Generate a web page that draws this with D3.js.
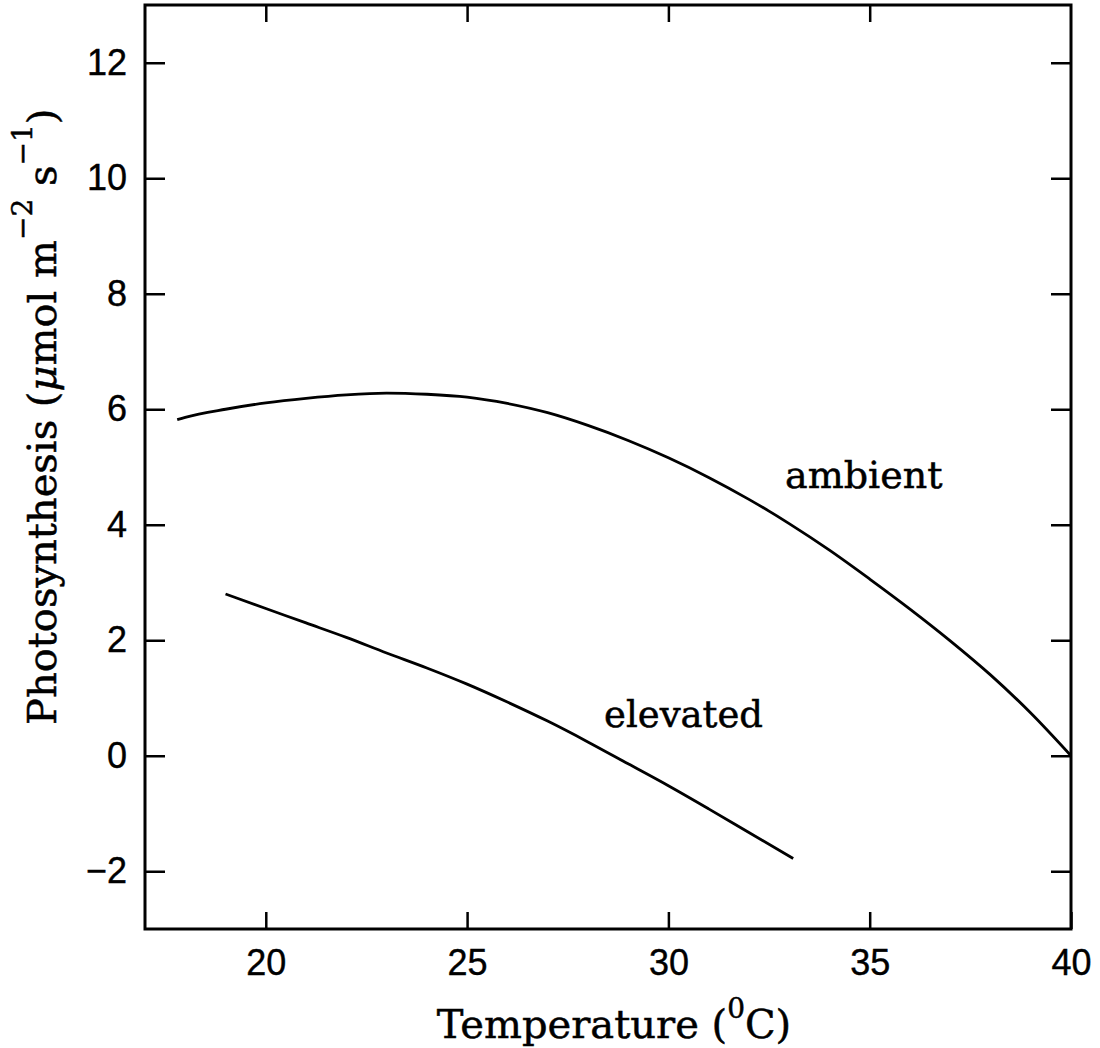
<!DOCTYPE html>
<html>
<head>
<meta charset="utf-8">
<script src="https://cdn.jsdelivr.net/npm/d3@7"></script>
<style>
  body { margin: 0; background: #fff; }
  svg { display: block; }
  .tick text { font-family: "Liberation Sans", Arial, sans-serif; font-size: 36px; fill: #000; stroke: #000; stroke-width: 0.4px; }
  .tick line { stroke: #000; stroke-width: 2.5px; }
  .label { font-family: "DejaVu Serif", serif; fill: #000; stroke: #000; stroke-width: 0.5px; }
</style>
</head>
<body>
<svg id="chart" width="1100" height="1048"></svg>
<script>
// data
const xTicks = [20, 25, 30, 35, 40];
const yTicks = [-2, 0, 2, 4, 6, 8, 10, 12];

const ambientT = [17.8, 18, 19, 20, 21, 22, 23, 24, 25, 26, 27, 28, 29, 30, 31, 32, 33, 34, 35, 36, 37, 38, 39, 40];
const ambientA = [5.82, 5.86, 6.00, 6.11, 6.19, 6.25, 6.28, 6.26, 6.21, 6.10, 5.94, 5.72, 5.46, 5.16, 4.82, 4.44, 4.02, 3.56, 3.06, 2.54, 1.99, 1.40, 0.74, 0.0];

const elevatedT = [19, 20, 21, 22, 23, 24, 25, 26, 27, 28, 29, 30, 31, 32, 33.1];
const elevatedA = [2.80, 2.55, 2.30, 2.05, 1.78, 1.52, 1.24, 0.93, 0.60, 0.24, -0.14, -0.52, -0.92, -1.33, -1.78];

const svg = d3.select("#chart");
const pLeft = 145, pRight = 1071, pTop = 5, pBottom = 929;

const x = d3.scaleLinear().domain([17, 40]).range([pLeft, pRight]);
const y = d3.scaleLinear().domain([-3, 13]).range([pBottom, pTop]);

// axes, ticks pointing inward
svg.append("g")
  .attr("transform", `translate(0,${pBottom})`)
  .call(d3.axisBottom(x).tickValues(xTicks).tickSize(-17).tickSizeOuter(0).tickPadding(20).tickFormat(d3.format("d")))
  .call(g => g.select(".domain").remove());

svg.append("g")
  .attr("transform", `translate(0,${pTop})`)
  .call(d3.axisTop(x).tickValues(xTicks.slice(0, 4)).tickSize(-17).tickSizeOuter(0).tickFormat(""))
  .call(g => g.select(".domain").remove());

svg.append("g")
  .attr("transform", `translate(${pLeft},0)`)
  .call(d3.axisLeft(y).tickValues(yTicks).tickSize(-20).tickSizeOuter(0).tickPadding(18))
  .call(g => g.select(".domain").remove());

svg.append("g")
  .attr("transform", `translate(${pRight},0)`)
  .call(d3.axisRight(y).tickValues(yTicks).tickSize(-20).tickSizeOuter(0).tickFormat(""))
  .call(g => g.select(".domain").remove());

// frame
svg.append("rect")
  .attr("x", pLeft).attr("y", pTop)
  .attr("width", pRight - pLeft).attr("height", pBottom - pTop)
  .attr("fill", "none").attr("stroke", "#000").attr("stroke-width", 3);

const line = d3.line()
  .x(d => x(d[0]))
  .y(d => y(d[1]))
  .curve(d3.curveMonotoneX);

const series = [
  { name: "ambient", pts: d3.zip(ambientT, ambientA) },
  { name: "elevated", pts: d3.zip(elevatedT, elevatedA) }
];

svg.selectAll(".curve")
  .data(series)
  .enter()
  .append("path")
  .attr("class", "curve")
  .attr("d", d => line(d.pts))
  .attr("fill", "none")
  .attr("stroke", "#000")
  .attr("stroke-width", 2.8);

// curve labels
svg.append("text").attr("class", "label")
  .attr("x", 785).attr("y", 488)
  .attr("font-size", 38)
  .text("ambient");

svg.append("text").attr("class", "label")
  .attr("x", 604).attr("y", 727)
  .attr("font-size", 37)
  .text("elevated");

// x title
const xt = svg.append("text").attr("class", "label")
  .attr("x", 614).attr("y", 1038)
  .attr("text-anchor", "middle")
  .attr("font-size", 40);
xt.append("tspan").text("Temperature (");
xt.append("tspan").attr("font-size", 28).attr("dy", -20).text("0");
xt.append("tspan").attr("dy", 20).text("C)");

// y title
const yt = svg.append("text").attr("class", "label")
  .attr("transform", "translate(56,725) rotate(-90)")
  .attr("font-size", 40);
yt.append("tspan").text("Photosynthesis (");
yt.append("tspan").attr("font-style", "italic").text("μ");
yt.append("tspan").text("mol m");
yt.append("tspan").attr("font-size", 28).attr("dy", -24).text("−2");
yt.append("tspan").attr("dy", 24).text(" s");
yt.append("tspan").attr("font-size", 28).attr("dy", -24).text("−1");
yt.append("tspan").attr("dy", 24).text(")");
</script>
</body>
</html>
